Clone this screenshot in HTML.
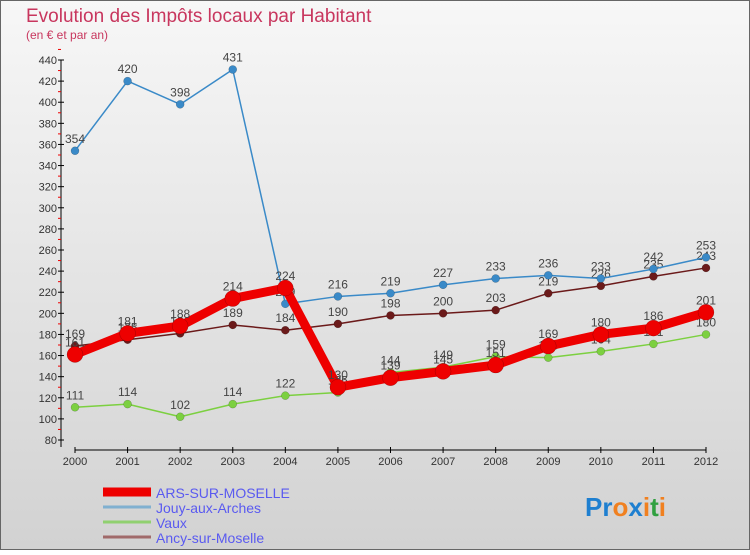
<!DOCTYPE html>
<html><head><meta charset="utf-8"><style>
body{margin:0;width:750px;height:550px;overflow:hidden;font-family:"Liberation Sans",sans-serif}
</style></head><body>
<svg width="750" height="550" font-family="Liberation Sans, sans-serif">
<defs><linearGradient id="bg" x1="0" y1="0" x2="0" y2="1"><stop offset="0" stop-color="#f7f7f7"/><stop offset="1" stop-color="#d2d2d2"/></linearGradient></defs>
<rect x="0.5" y="0.5" width="749" height="549" fill="url(#bg)" stroke="#666"/>
<text x="26" y="22" font-size="19" fill="#c8365e">Evolution des Impôts locaux par Habitant</text>
<text x="26" y="39" font-size="12" fill="#c8365e">(en € et par an)</text>
<g id="axes"></g>
<g id="series"></g>
<g id="legend"></g>
<text x="585" y="516" font-size="26" font-weight="bold"><tspan fill="#1e7fd0">Pr</tspan><tspan fill="#f08020">o</tspan><tspan fill="#1e7fd0">x</tspan><tspan fill="#f08020">i</tspan><tspan fill="#30a040">t</tspan><tspan fill="#f08020">i</tspan></text>
</svg>
<script>
const years=[2000,2001,2002,2003,2004,2005,2006,2007,2008,2009,2010,2011,2012];
const yTicks=[80,100,120,140,160,180,200,220,240,260,280,300,320,340,360,380,400,420,440];
const arsValues=[161,181,188,214,224,130,139,145,151,169,180,186,201];
const jouyValues=[354,420,398,431,209,216,219,227,233,236,233,242,253];
const vauxValues=[111,114,102,114,122,125,144,149,159,158,164,171,180];
const ancyValues=[169,175,181,189,184,190,198,200,203,219,226,235,243];
const NS="http://www.w3.org/2000/svg";
const xs=i=>75+i*(706-75)/12;
const ys=v=>440-(v-80)*(380/360);
function mk(t,a,p){const e=document.createElementNS(NS,t);for(const k in a)e.setAttribute(k,a[k]);p.appendChild(e);return e;}
const ax=document.getElementById('axes');
let l=mk('line',{x1:61,y1:ys(440),x2:61,y2:447,stroke:'#000'},ax);


yTicks.forEach(v=>{
 mk('line',{x1:58,y1:ys(v),x2:64,y2:ys(v),stroke:'#000'},ax);
 mk('line',{x1:58,y1:ys(v+10),x2:61,y2:ys(v+10),stroke:'#e00'},ax);
 const t=mk('text',{x:57,y:ys(v)+4,'font-size':11,'text-anchor':'end',fill:'#333'},ax);t.textContent=v;
 
 
});
l=mk('line',{x1:75,y1:450,x2:706,y2:450,stroke:'#000'},ax);


years.forEach((y,i)=>{
 mk('line',{x1:xs(i),y1:447,x2:xs(i),y2:453,stroke:'#000'},ax);
 const t=mk('text',{x:xs(i),y:465,'font-size':11,'text-anchor':'middle',fill:'#333'},ax);t.textContent=y;
 
 
});
const series=[
 {name:'Ancy-sur-Moselle',vals:ancyValues,c:'#6b1a1a',w:1.5,r:4,lc:'#a06a6a'},
 {name:'Vaux',vals:vauxValues,c:'#7cd040',w:1.5,r:4,lc:'#90d070'},
 {name:'Jouy-aux-Arches',vals:jouyValues,c:'#3a8ac8',w:1.5,r:4,lc:'#80b0d0'},
 {name:'ARS-SUR-MOSELLE',vals:arsValues,c:'#ee0000',w:9,r:8,lc:'#ee0000'}];
const sg=document.getElementById('series');
series.forEach(s=>{
 const g=mk('g',{},sg);
 
 
 const pts=s.vals.map((v,i)=>xs(i)+','+ys(v)).join(' ');
 mk('polyline',{points:pts,fill:'none',stroke:s.c,'stroke-width':s.w,'stroke-linejoin':'round'},g);
 s.vals.forEach((v,i)=>{
  const c=mk('circle',{cx:xs(i),cy:ys(v),r:s.r,fill:s.c,stroke:'rgba(0,0,0,0.3)','stroke-width':0.5},g);
  
  
  const t=mk('text',{x:xs(i),y:ys(v)-8,'font-size':12,'text-anchor':'middle',fill:'#444'},g);t.textContent=v;
  
  
 });
});
const lg=document.getElementById('legend');
[series[3],series[2],series[1],series[0]].forEach((s,i)=>{
 const y=492+i*15;
 mk('line',{x1:103,y1:y,x2:151,y2:y,stroke:s.lc,'stroke-width':s.w>5?9:3},lg);
 const t=mk('text',{x:156,y:y+6,'font-size':14,fill:'#5a5af0'},lg);t.textContent=s.name;
 
 
});
</script>
</body></html>
